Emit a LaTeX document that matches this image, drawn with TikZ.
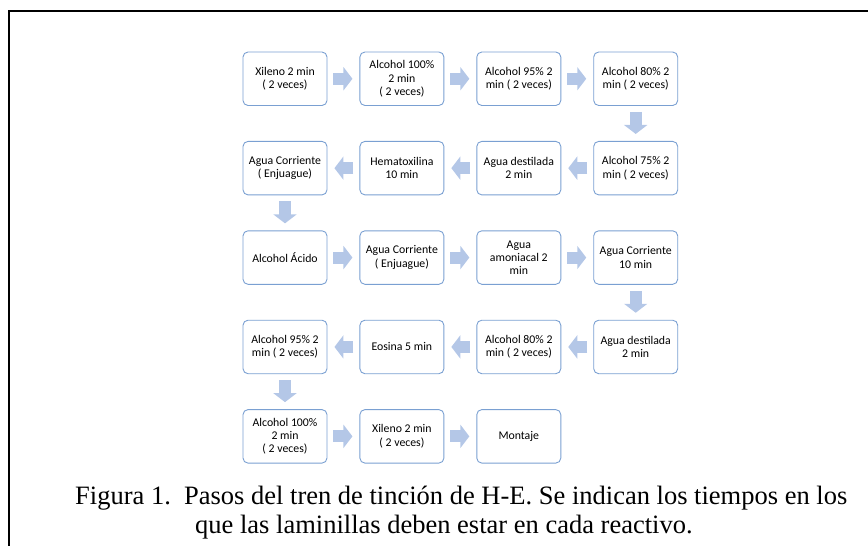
\documentclass[tikz,border=0pt]{standalone}
\usepackage{fontspec}
\setmainfont{Carlito}
\newfontfamily\capfont{Liberation Serif}
\usetikzlibrary{arrows.meta, positioning}
\definecolor{bordeazul}{RGB}{122,160,210}
\definecolor{flechaazul}{RGB}{180,199,231}

\begin{document}
\begin{tikzpicture}[x=1pt,y=-1pt,
    paso/.style={draw=bordeazul,line width=0.9pt,fill=white,rounded corners=5pt,
      minimum width=84pt,minimum height=53.5pt,inner sep=2pt,align=center,
      font=\fontsize{11.8}{13.3}\selectfont},
    flecha/.style={flechaazul,line width=12pt,shorten <=6pt,shorten >=7pt,
      -{Triangle[length=9pt,width=23pt]}},
    node distance=35pt and 32pt]
  \useasboundingbox (0,0) rectangle (868,546);
  % marco
  \draw[line width=2pt] (9,547) -- (9,11) -- (870,11);

  % fila 1
  \node[paso] (p1) at (285,78.75) {Xileno 2 min\\( 2 veces)};
  \node[paso,right=of p1] (p2) {Alcohol 100\%\\2 min\\( 2 veces)};
  \node[paso,right=of p2] (p3) {Alcohol 95\% 2\\min ( 2 veces)};
  \node[paso,right=of p3] (p4) {Alcohol 80\% 2\\min ( 2 veces)};
  % fila 2
  \node[paso,below=of p4] (p5) {Alcohol 75\% 2\\min ( 2 veces)};
  \node[paso,left=of p5] (p6) {Agua destilada\\2 min};
  \node[paso,left=of p6] (p7) {Hematoxilina\\10 min};
  \node[paso,left=of p7] (p8) {Agua Corriente\\( Enjuague)};
  % fila 3
  \node[paso,below=of p8] (p9) {Alcohol Ácido};
  \node[paso,right=of p9] (p10) {Agua Corriente\\( Enjuague)};
  \node[paso,right=of p10] (p11) {Agua\\amoniacal 2\\min};
  \node[paso,right=of p11] (p12) {Agua Corriente\\10 min};
  % fila 4
  \node[paso,below=of p12] (p13) {Agua destilada\\2 min};
  \node[paso,left=of p13] (p14) {Alcohol 80\% 2\\min ( 2 veces)};
  \node[paso,left=of p14] (p15) {Eosina 5 min};
  \node[paso,left=of p15] (p16) {Alcohol 95\% 2\\min ( 2 veces)};
  % fila 5
  \node[paso,below=of p16] (p17) {Alcohol 100\%\\2 min\\( 2 veces)};
  \node[paso,right=of p17] (p18) {Xileno 2 min\\( 2 veces)};
  \node[paso,right=of p18] (p19) {Montaje};

  \foreach \a/\b in {p1/p2,p2/p3,p3/p4,p4/p5,p5/p6,p6/p7,p7/p8,p8/p9,p9/p10,
      p10/p11,p11/p12,p12/p13,p13/p14,p14/p15,p15/p16,p16/p17,p17/p18,p18/p19}
    \draw[flecha] (\a) -- (\b);

  % pie de figura
  \node[anchor=base west,inner sep=0pt,font=\capfont\fontsize{26.5}{30}\selectfont]
    (cap1) at (75,504) {Figura 1.\ \ Pasos del tren de tinción de H-E. Se indican los tiempos en los};
  \node[anchor=base west,inner sep=0pt,font=\capfont\fontsize{26.5}{30}\selectfont]
    (cap2) at (195,533) {que las laminillas deben estar en cada reactivo.};
\end{tikzpicture}
\end{document}
